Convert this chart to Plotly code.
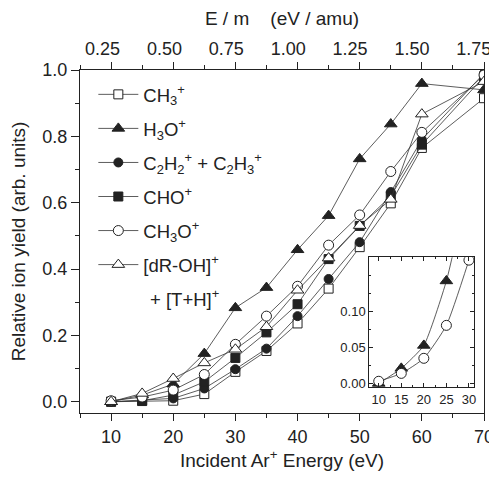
import plotly.graph_objects as go

# ---------------- data ----------------
energy = [10, 15, 20, 25, 30, 35, 40, 45, 50, 55, 60, 70]
ch3 = [0.0, 0.002, 0.003, 0.023, 0.090, 0.153, 0.236, 0.341, 0.466, 0.598, 0.765, 0.915]
h3o = [0.0, 0.020, 0.053, 0.145, 0.283, 0.344, 0.458, 0.561, 0.732, 0.837, 0.959, 0.940]
c2h2 = [0.0, 0.005, 0.010, 0.040, 0.098, 0.160, 0.258, 0.370, 0.481, 0.632, 0.790, 0.990]
cho = [0.0, 0.003, 0.020, 0.060, 0.132, 0.209, 0.294, 0.430, 0.530, 0.620, 0.775, 0.980]
ch3o = [0.003, 0.014, 0.035, 0.082, 0.173, 0.258, 0.348, 0.472, 0.563, 0.694, 0.812, 0.985]
drt = [0.0, 0.025, 0.070, 0.117, 0.158, 0.226, 0.336, 0.433, 0.531, 0.610, 0.867, 0.965]

inset_energy = [10, 15, 20, 25, 30]
inset_h3o = [0.0, 0.021, 0.053, 0.143, 0.283]
inset_ch3o = [0.003, 0.014, 0.035, 0.081, 0.172]

argon_mass = 40.0
top_ticks = [0.25, 0.50, 0.75, 1.00, 1.25, 1.50, 1.75]

names = [
    "CH<sub>3</sub><sup>+</sup>",
    "H<sub>3</sub>O<sup>+</sup>",
    "C<sub>2</sub>H<sub>2</sub><sup>+</sup> + C<sub>2</sub>H<sub>3</sub><sup>+</sup>",
    "CHO<sup>+</sup>",
    "CH<sub>3</sub>O<sup>+</sup>",
    "[dR-OH]<sup>+</sup>",
]
legend_continuation = "+ [T+H]<sup>+</sup>"
series = [ch3, h3o, c2h2, cho, ch3o, drt]
symbols = ["square-open", "triangle-up", "circle", "square", "circle-open", "triangle-up-open"]
sizes = [9, 11, 9, 9, 10, 11]

INK = "#222222"
FONT = "Liberation Sans, Arial, sans-serif"

fig = go.Figure()
for i, (nm, ys, sym, sz) in enumerate(zip(names, series, symbols, sizes)):
    is_open = sym.endswith("open")
    fig.add_trace(go.Scatter(
        x=energy, y=ys, name=nm, mode="lines+markers",
        legendgroup=f"g{i}",
        line=dict(color="#333333", width=0.8),
        marker=dict(symbol=sym.replace("-open", "") if is_open else sym,
                    size=sz,
                    color="white" if is_open else INK,
                    line=dict(color=INK, width=1)),
        xaxis="x", yaxis="y",
    ))

# invisible companion trace so the E/m (top) axis is drawn
fig.add_trace(go.Scatter(
    x=[e / argon_mass for e in energy], y=ch3, mode="markers",
    marker=dict(opacity=0), showlegend=False, hoverinfo="skip",
    xaxis="x2", yaxis="y",
))

# inset
fig.add_trace(go.Scatter(
    x=inset_energy, y=inset_h3o, mode="lines+markers", showlegend=False,
    line=dict(color="#333333", width=0.8, shape="spline", smoothing=0.5),
    marker=dict(symbol="triangle-up", size=11, color=INK, line=dict(color=INK, width=1)),
    xaxis="x3", yaxis="y2",
))
fig.add_trace(go.Scatter(
    x=inset_energy, y=inset_ch3o, mode="lines+markers", showlegend=False,
    line=dict(color="#333333", width=0.8, shape="spline", smoothing=0.5),
    marker=dict(symbol="circle", size=10, color="white", line=dict(color=INK, width=1)),
    xaxis="x3", yaxis="y2",
))

# second line of the last legend entry
fig.add_annotation(
    text=legend_continuation, xref="paper", yref="paper",
    x=0.168, y=0.335, xanchor="left", yanchor="middle",
    showarrow=False, font=dict(size=18.5, color=INK),
)

fig.update_layout(
    width=489, height=469,
    margin=dict(l=72, r=13, t=62, b=64, autoexpand=False),
    paper_bgcolor="white", plot_bgcolor="white",
    font=dict(family=FONT, size=18, color=INK),
    showlegend=True,
    legend=dict(x=0.033, y=0.983, xanchor="left", yanchor="top",
                bgcolor="rgba(0,0,0,0)", traceorder="grouped",
                tracegroupgap=7, font=dict(size=18.5, color=INK),
                itemwidth=40),
    xaxis=dict(
        domain=[0, 1], range=[5, 70], anchor="y", automargin=False,
        showline=True, linecolor=INK, linewidth=1, mirror="ticks",
        ticks="outside", ticklen=7, tickcolor=INK, tickwidth=1,
        tickvals=[10, 20, 30, 40, 50, 60, 70],
        minor=dict(dtick=5, tick0=5, ticks="outside", ticklen=4, tickcolor=INK, showgrid=False),
        showgrid=False, zeroline=False,
        tickfont=dict(size=18),
        title=dict(text="Incident Ar<sup>+</sup> Energy (eV)", font=dict(size=19), standoff=6),
    ),
    xaxis2=dict(
        overlaying="x", side="top", anchor="y", automargin=False,
        range=[0.159, 1.791],
        tickvals=top_ticks, ticktext=[f"{v:.2f}" for v in top_ticks],
        ticks="outside", ticklen=7, tickcolor="rgba(0,0,0,0)",
        showline=False, showgrid=False, zeroline=False,
        tickfont=dict(size=18),
        title=dict(text="E / m\u00a0\u00a0\u00a0\u00a0(eV / amu)", font=dict(size=19), standoff=8),
    ),
    yaxis=dict(
        domain=[0, 1], range=[-0.034, 1.0], anchor="x", automargin=False,
        showline=True, linecolor=INK, linewidth=1, mirror=True,
        ticks="outside", ticklen=8, tickcolor=INK, tickwidth=1,
        tickvals=[0.0, 0.2, 0.4, 0.6, 0.8, 1.0], tickformat=".1f",
        minor=dict(dtick=0.1, tick0=0, ticks="outside", ticklen=4, tickcolor=INK, showgrid=False),
        showgrid=False, zeroline=False,
        tickfont=dict(size=18),
        title=dict(text="Relative ion yield (arb. units)", font=dict(size=19), standoff=12),
    ),
    xaxis3=dict(
        domain=[0.716, 0.975], range=[7.9, 31.1], anchor="y2", automargin=False,
        showline=True, linecolor=INK, linewidth=1, mirror="allticks",
        ticks="inside", ticklen=4, tickcolor=INK,
        tickvals=[10, 15, 20, 25, 30],
        minor=dict(dtick=2.5, tick0=0, ticks="inside", ticklen=2, tickcolor=INK, showgrid=False),
        showgrid=False, zeroline=False,
        tickfont=dict(size=13),
    ),
    yaxis2=dict(
        domain=[0.0758, 0.454], range=[-0.005, 0.176], anchor="x3", automargin=False,
        showline=True, linecolor=INK, linewidth=1, mirror="allticks",
        ticks="inside", ticklen=4, tickcolor=INK,
        tickvals=[0.0, 0.05, 0.10], tickformat=".2f",
        minor=dict(dtick=0.025, tick0=0, ticks="inside", ticklen=2, tickcolor=INK, showgrid=False),
        showgrid=False, zeroline=False,
        tickfont=dict(size=13),
    ),
)

fig.write_html("out.html")
